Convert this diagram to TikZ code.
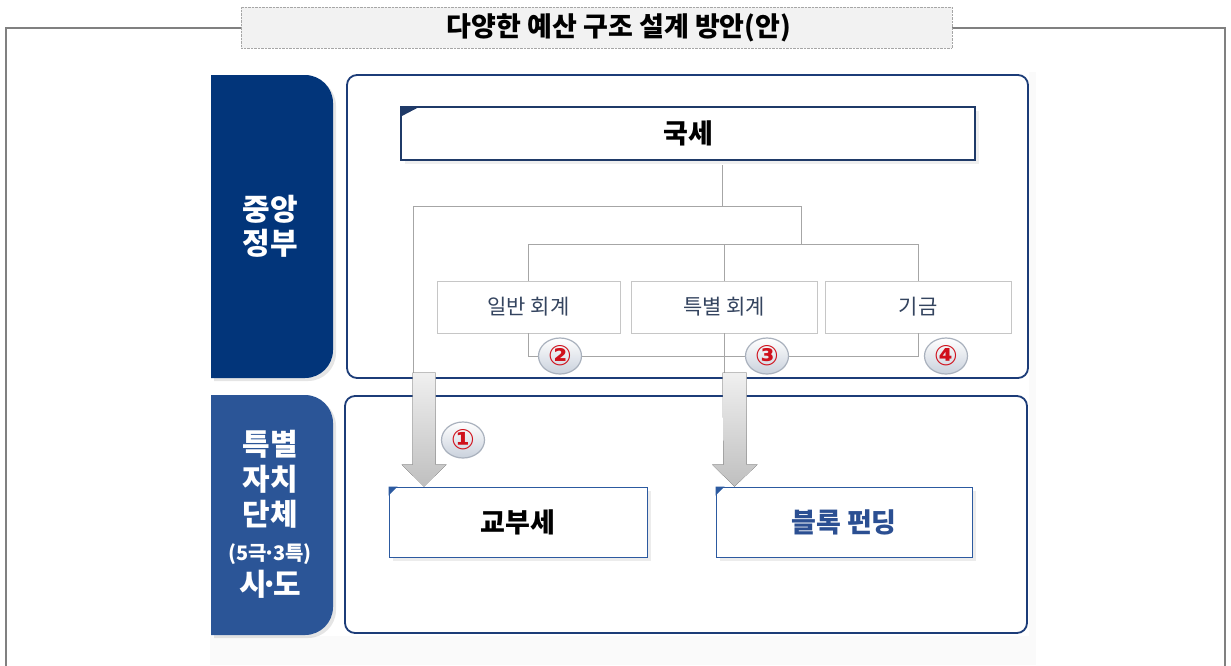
\documentclass[tikz,border=0pt]{standalone}
\usepackage{fontspec}
\setmainfont{Noto Sans CJK KR}
\newfontfamily\dejavu{DejaVu Sans}
\usetikzlibrary{shadows,shapes.geometric}
\definecolor{navy}{HTML}{02357A}
\definecolor{midblue}{HTML}{2B5597}
\definecolor{panelline}{HTML}{1C3C78}
\definecolor{gukline}{HTML}{1F3A68}
\definecolor{boxblue}{HTML}{2C5AA0}
\definecolor{accttext}{HTML}{34445F}
\definecolor{blocktext}{HTML}{2B4F92}
\definecolor{treec}{HTML}{A6A6A6}
\definecolor{framec}{HTML}{808080}
\definecolor{badgeline}{HTML}{A9B1BD}
\definecolor{badgefill}{HTML}{C9D1DC}
\definecolor{numred}{HTML}{D0101B}
\begin{document}
\begin{tikzpicture}[x=1pt,y=-1pt,
  titlebox/.style={draw=gray!70, densely dotted, fill=gray!10, inner sep=0pt,
    minimum width=711pt, minimum height=41pt},
  titletext/.style={inner sep=0pt, font=\fontsize{27}{30}\selectfont\bfseries},
  sidetext/.style={text=white, align=center, font=\fontsize{30}{34}\selectfont\bfseries},
  panel/.style={draw=panelline, line width=1.8pt, rounded corners=10pt, fill=white, inner sep=0pt},
  gukbox/.style={draw=gukline, line width=2pt, fill=white, inner sep=0pt,
    minimum width=574pt, minimum height=53pt, font=\fontsize{27}{30}\selectfont\bfseries,
    drop shadow={shadow xshift=4pt, shadow yshift=-4pt, opacity=0.12}},
  acct/.style={draw=gray!45, line width=0.8pt, fill=white, inner sep=0pt,
    minimum width=184pt, minimum height=52pt, text=accttext, font=\fontsize{21}{24}\selectfont},
  lbox/.style={draw=boxblue, line width=1pt, fill=white, inner sep=0pt,
    minimum width=257pt, minimum height=70pt, font=\fontsize{27}{30}\selectfont\bfseries,
    drop shadow={shadow xshift=4pt, shadow yshift=-4pt, opacity=0.15}},
  tree/.style={draw=treec, line width=1pt},
  badge/.style={ellipse, draw=badgeline, line width=1.2pt, top color=white, bottom color=badgefill,
    minimum width=43pt, minimum height=36pt, inner sep=0pt, text=numred, font=\dejavu\fontsize{28}{28}\selectfont\bfseries},
  grayarrow/.style={top color=gray!12, bottom color=gray!50, draw=none}
]
\useasboundingbox (0,0) rectangle (1231,665);
\fill[white] (0,0) rectangle (1231,665);
% faint background of the pasted image
\fill[gray!4] (210,636) rectangle (1036,665);
\fill[gray!4] (1029,72) rectangle (1036,636);

% outer frame
\draw[framec, line width=1.3pt] (241,28) -- (6,28) -- (6,666);
\draw[framec, line width=1.3pt] (952,28) -- (1225,28) -- (1225,666);

% title
\node[titlebox] (title) at (596.5,27.5) {};
\node[titletext] (titlelabel) at (619,28) {다양한 예산 구조 설계 방안(안)};

% left panels
\fill[navy, drop shadow={shadow xshift=3pt, shadow yshift=-3pt, opacity=0.2}]
  (211,378) [sharp corners] -- (211,75) [rounded corners=28pt] -- (333,75) -- (333,378) [sharp corners] -- cycle;
\node[sidetext] (central) at (270,226) {중앙\\정부};
\fill[midblue, drop shadow={shadow xshift=3pt, shadow yshift=-3pt, opacity=0.2}]
  (211,635) [sharp corners] -- (211,395) [rounded corners=28pt] -- (333,395) -- (333,635) [sharp corners] -- cycle;
\node[sidetext, font=\fontsize{30}{35}\selectfont\bfseries] (local) at (270,514)
  {특별\\자치\\단체\\{\fontsize{20}{20}\selectfont (5극{\kern-3pt}·{\kern-3pt}3특)}\\시{\kern-6pt}·{\kern-6pt}도};

% right panels
\node[panel, minimum width=681pt, minimum height=303pt] (up) at (687.5,226.5) {};
\node[panel, minimum width=682pt, minimum height=237pt] (down) at (686,514.5) {};

% 국세
\node[gukbox] (gukse) at (688,133.5) {국세};
\fill[gukline] (gukse.north west) -- ++(21,0) -- ++(-21,11) -- cycle;

% account boxes
\node[acct, minimum width=183pt] (ilban) at (528.5,307) {일반 회계};
\node[acct, minimum width=186pt] (teuk) at (724,307) {특별 회계};
\node[acct, minimum width=186pt] (gigeum) at (918,307) {기금};

% tree lines
\coordinate (jtop) at (722,206);
\coordinate (jleft) at (413,206);
\coordinate (jright) at (801,206);
\coordinate (a1top) at (413,373);
\draw[tree] (gukse.south -| jtop) ++(0,4) -- (jtop);
\draw[tree] (jleft) -- (jright) -- ++(0,39);
\draw[tree] (ilban.north) -- ++(0,-36) -| (gigeum.north);
\draw[tree] (teuk.north) -- ++(0,-36);
\draw[tree] (ilban.south) -- ++(0,23) -| (gigeum.south);
\draw[tree] (jleft) -- (a1top);
\draw[tree] (teuk.south) -- ++(0,40);

% lower boxes
\node[lbox, minimum width=258pt] (gyobu) at (518,522) {교부세};
\node[lbox, minimum width=256pt, text=blocktext] (block) at (844,522) {블록 펀딩};
\fill[boxblue] (gyobu.north west) -- ++(9,0) -- ++(-9,9) -- cycle;
\fill[boxblue] (block.north west) -- ++(9,0) -- ++(-9,9) -- cycle;

% gray arrows
\coordinate (tip1) at ([xshift=35.5pt]gyobu.north west);
\coordinate (tip2) at ([xshift=19pt]block.north west);
\fill[grayarrow] (tip1) ++(-11.5,-114) -- ++(23,0) -- ++(0,92) -- ++(11,0) -- (tip1)
  -- ++(-22.5,-22) -- ++(11,0) -- cycle;
\fill[grayarrow] (tip2) ++(-12,-114) -- ++(24,0) -- ++(0,92) -- ++(11,0) -- (tip2)
  -- ++(-22.5,-22) -- ++(11.5,0) -- cycle;

% badges
\node[badge] (b1) at (463,440) {①};
\node[badge] (b2) at (560,356) {②};
\node[badge] (b3) at (767,356) {③};
\node[badge] (b4) at (946,356) {④};
\end{tikzpicture}
\end{document}
